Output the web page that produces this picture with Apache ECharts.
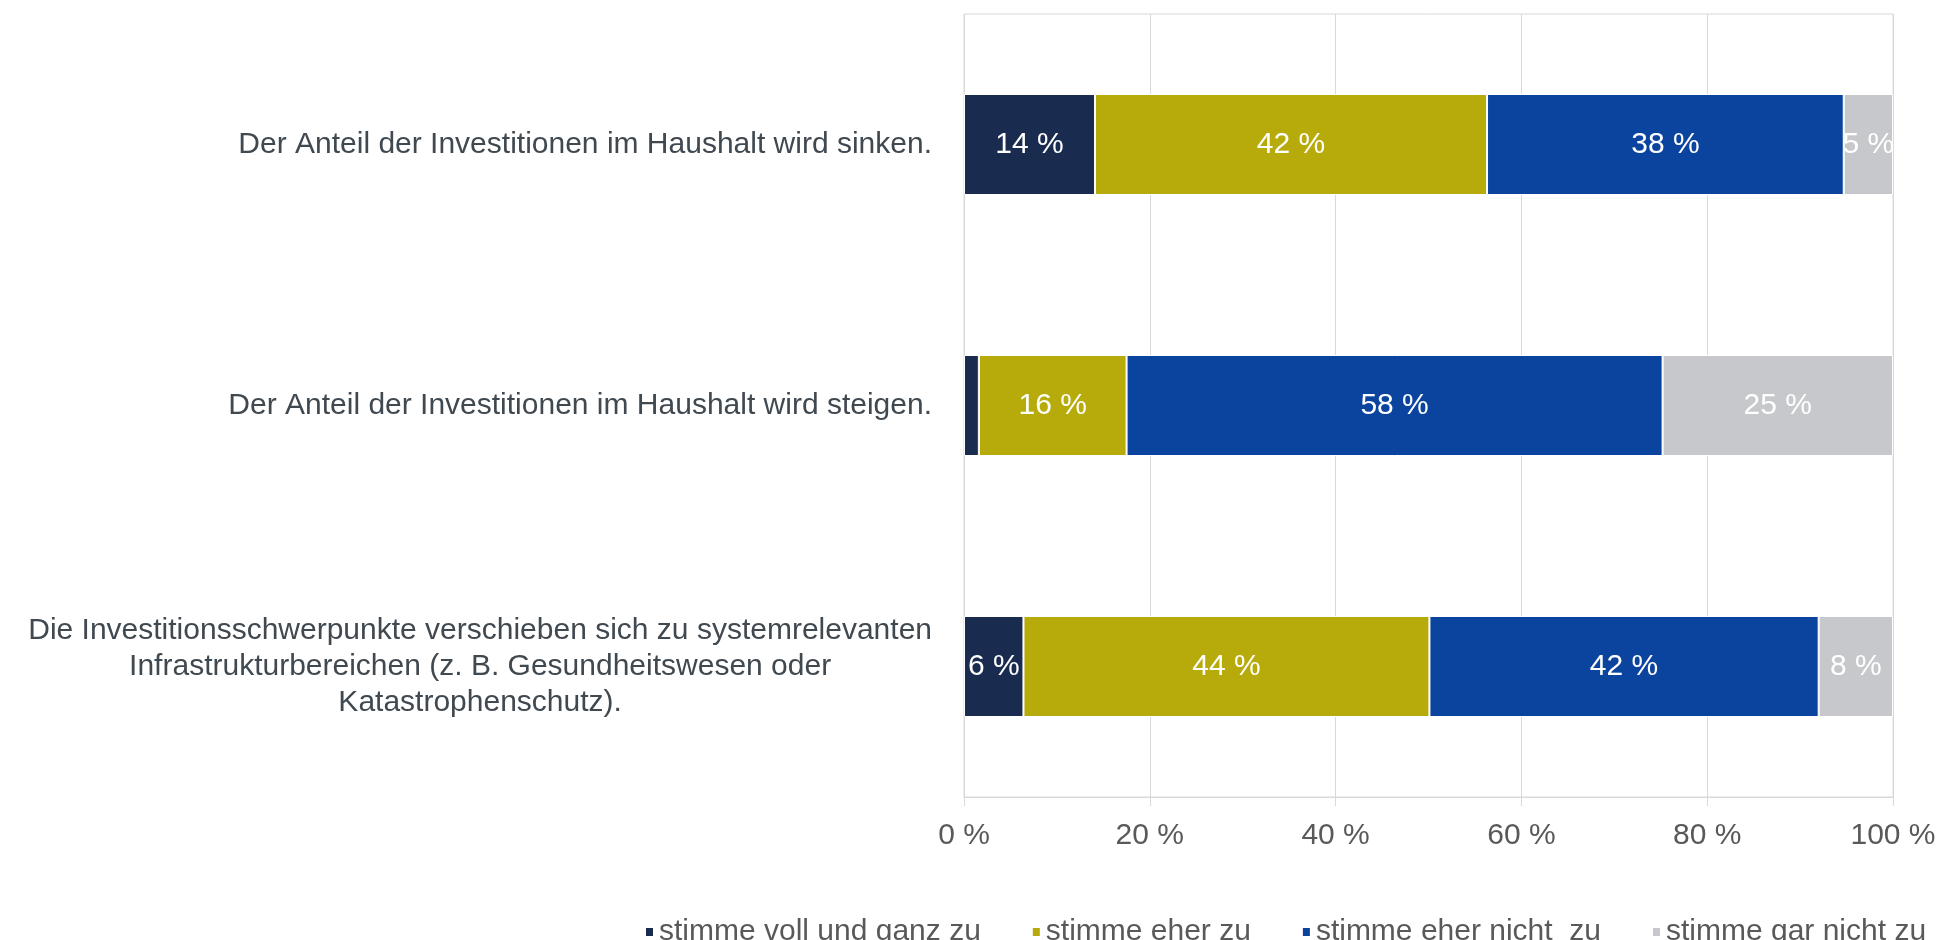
<!DOCTYPE html>
<html>
<head>
<meta charset="utf-8">
<title>Investitionen</title>
<script src="https://cdn.jsdelivr.net/npm/echarts@6/dist/echarts.min.js"></script>
<style>
  html, body { margin: 0; padding: 0; background: #fff; }
  #main { width: 1943px; height: 940px; }
</style>
</head>
<body>
<div id="main"></div>
<script>
// Aussagen (von oben nach unten)
const categories = [
    'Der Anteil der Investitionen im Haushalt wird sinken.',
    'Der Anteil der Investitionen im Haushalt wird steigen.',
    'Die Investitionsschwerpunkte verschieben sich zu systemrelevanten\nInfrastrukturbereichen (z. B. Gesundheitswesen oder\nKatastrophenschutz).'
]
const seriesNames = ['stimme voll und ganz zu', 'stimme eher zu', 'stimme eher nicht  zu', 'stimme gar nicht zu']

const vollUndGanz = [14.1, 1.6, 6.4]
const eherZu = [42.2, 15.9, 43.7]
const eherNicht = [38.4, 57.7, 41.9]
const garNicht = [5.3, 24.8, 8.0]

const xTicks = [0, 20, 40, 60, 80, 100]

const colors = ['#1a2b50', '#b7ab0b', '#0b449f', '#c7c8cc']
const font = 'Liberation Sans, Arial, sans-serif'

const makeSeries = (name, data) => ({
    name: name,
    type: 'bar',
    stack: 'total',
    barWidth: 101,
    data: data,
    itemStyle: {
        borderColor: '#fff',
        borderWidth: 1
    },
    label: {
        show: true,
        position: 'inside',
        color: '#fff',
        fontSize: 30,
        fontFamily: font,
        formatter: p => p.value < 3 ? '' : Math.round(p.value) + ' %'
    }
})

const series = [
    makeSeries(seriesNames[0], vollUndGanz),
    makeSeries(seriesNames[1], eherZu),
    makeSeries(seriesNames[2], eherNicht),
    makeSeries(seriesNames[3], garNicht)
]

const option = {
    animation: false,
    backgroundColor: '#fff',
    color: colors,
    textStyle: { fontFamily: font },
    grid: {
        left: 964,
        right: 50,
        top: 14,
        bottom: 143,
        show: true,
        borderColor: '#d9d9d9',
        borderWidth: 1,
        outerBoundsMode: 'none'
    },
    legend: {
        data: seriesNames,
        left: 644,
        top: 917,
        padding: 0,
        icon: 'rect',
        itemWidth: 9,
        itemHeight: 10,
        itemGap: 50,
        textStyle: {
            color: '#595959',
            fontSize: 30,
            lineHeight: 14,
            fontFamily: font
        }
    },
    xAxis: {
        type: 'value',
        min: xTicks[0],
        max: xTicks[xTicks.length - 1],
        interval: xTicks[1] - xTicks[0],
        axisLine: { show: true, lineStyle: { color: '#d9d9d9' } },
        axisTick: { show: true, length: 9, lineStyle: { color: '#d9d9d9' } },
        splitLine: { show: true, lineStyle: { color: '#d9d9d9' } },
        axisLabel: {
            margin: 24,
            color: '#595959',
            fontSize: 30,
            fontFamily: font,
            formatter: '{value} %'
        }
    },
    yAxis: {
        type: 'category',
        inverse: true,
        data: categories,
        axisLine: { show: true, lineStyle: { color: '#d9d9d9' } },
        axisTick: { show: false },
        splitLine: { show: false },
        axisLabel: {
            margin: 32,
            color: '#404850',
            fontSize: 30,
            fontFamily: font,
            // mehrzeilige Beschriftung zentriert
            formatter: v => v.split('\n').map(s => '{c|' + s + '}').join('\n'),
            rich: {
                c: {
                    align: 'center',
                    fontSize: 30,
                    lineHeight: 36,
                    color: '#404850',
                    fontFamily: font
                }
            }
        }
    },
    series: series
}

var myChart = echarts.init(document.getElementById('main'))
myChart.setOption(option)
</script>
</body>
</html>
